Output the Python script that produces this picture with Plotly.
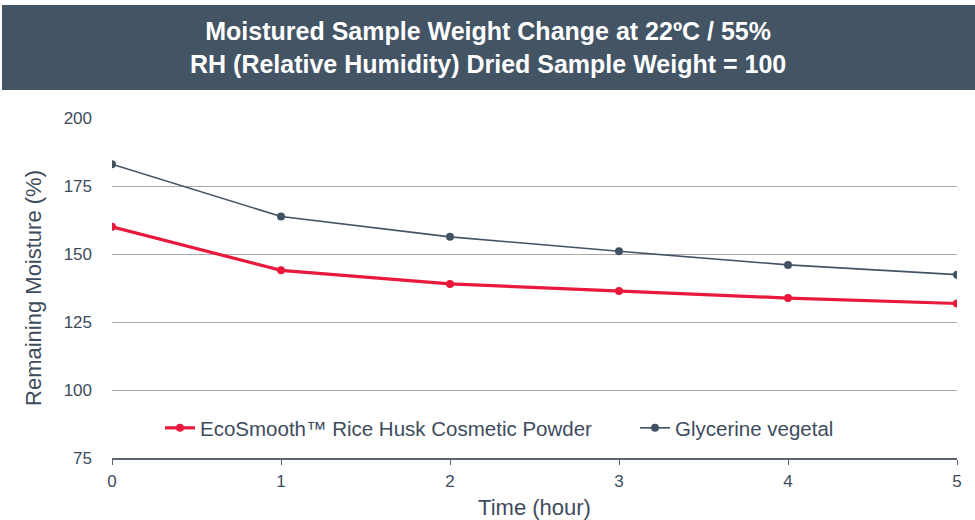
import plotly.graph_objects as go

hours = [0, 1, 2, 3, 4, 5]
ecosmooth = [160, 144, 139, 136.4, 133.8, 131.8]
glycerine = [183, 163.8, 156.3, 151, 146, 142.4]
y_ticks = [75, 100, 125, 150, 175, 200]

TEXT = "#3d4b5c"
RED = "#e8193c"
SLATE = "#435263"
FONT = "Liberation Sans, Arial, Helvetica"

fig = go.Figure()
fig.add_trace(go.Scatter(
    x=hours, y=ecosmooth, mode="lines+markers",
    name="EcoSmooth™ Rice Husk Cosmetic Powder", legend="legend",
    line=dict(color=RED, width=3.2), marker=dict(color=RED, size=8)))
fig.add_trace(go.Scatter(
    x=hours, y=glycerine, mode="lines+markers",
    name="Glycerine vegetal", legend="legend2",
    line=dict(color=SLATE, width=1.6), marker=dict(color=SLATE, size=8)))

L, R, T, B = 112, 18, 118, 62
W, H = 975, 520
pw, ph = W - L - R, H - T - B

def px(x):
    return (x - L) / pw

def py(y):
    return (H - B - y) / ph

fig.add_shape(type="rect", xref="paper", yref="paper",
              x0=px(2), x1=px(976), y0=py(90), y1=py(5),
              fillcolor="#435465", line=dict(width=0), layer="below")
fig.add_annotation(xref="paper", yref="paper", x=px(488), y=py(47),
                   text="<b>Moistured Sample Weight Change at 22ºC / 55%<br>RH (Relative Humidity) Dried Sample Weight = 100</b>",
                   showarrow=False, font=dict(color="white", size=25, family=FONT),
                   xanchor="center", yanchor="middle", align="center")

leg_common = dict(orientation="h", xanchor="left", yanchor="middle",
                  font=dict(size=20.5, color=TEXT), bgcolor="rgba(0,0,0,0)",
                  borderwidth=0)

fig.update_layout(
    width=W, height=H,
    margin=dict(l=L, r=R, t=T, b=B),
    paper_bgcolor="white", plot_bgcolor="white",
    font=dict(family=FONT, color=TEXT, size=17),
    showlegend=True,
    legend=dict(x=px(160), y=py(428), **leg_common),
    legend2=dict(x=px(635), y=py(428), **leg_common),
    xaxis=dict(range=[0, 5], tickvals=hours, showgrid=False, zeroline=False,
               showline=True, linecolor="#5a6270", linewidth=1.5,
               ticks="outside", ticklen=5, tickcolor="#5a6270",
               ticklabelstandoff=2, automargin=False,
               tickfont=dict(size=17, color=TEXT),
               title=dict(text="Time (hour)", font=dict(size=22, color=TEXT), standoff=14)),
    yaxis=dict(range=[75, 200], tickvals=y_ticks, showgrid=True, gridcolor="#a8a8a8",
               gridwidth=1.2, zeroline=False, showline=False, ticks="",
               ticklabelstandoff=19, automargin=False,
               tickfont=dict(size=17, color=TEXT),
               title=dict(text="Remaining Moisture (%)", font=dict(size=22, color=TEXT), standoff=15)),
)

fig.write_html("out.html", config={"displayModeBar": False},
               post_script="document.body.style.margin='0';document.body.style.overflow='hidden';")
